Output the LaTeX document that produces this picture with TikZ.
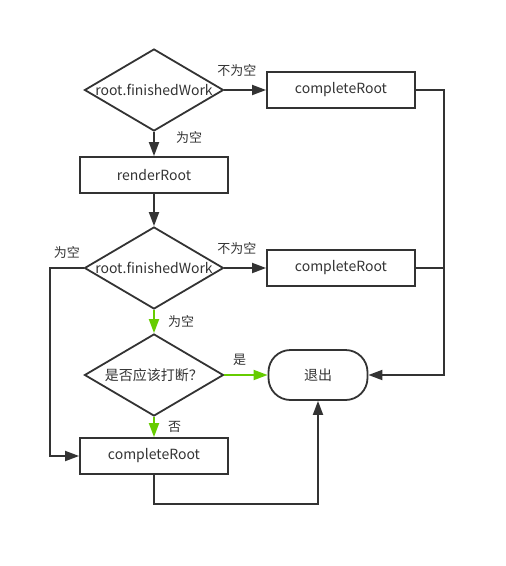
\documentclass[tikz,border=0pt]{standalone}
\usepackage{fontspec}
\setmainfont{Noto Sans CJK SC}
\usetikzlibrary{shapes.geometric, arrows.meta}
\definecolor{linegray}{RGB}{51,51,51}
\definecolor{yesgreen}{RGB}{102,204,0}
\tikzstyle{process} = [rectangle, 
minimum width=148pt, 
minimum height=36pt, 
text centered, 
draw=linegray, 
line width=1.8pt]
\tikzstyle{decision} = [diamond, 
aspect=1.7, 
minimum width=139pt, 
minimum height=82pt, 
inner sep=0pt, 
text centered, 
draw=linegray, 
line width=1.8pt]
\tikzstyle{startstop} = [rectangle, 
rounded corners=22pt, 
minimum width=99pt, 
minimum height=50pt, 
text centered, 
draw=linegray, 
line width=1.8pt]
\tikzstyle{arrow} = [line width=1.8pt,
draw=linegray,
->,
>={Triangle[length=14pt,width=10pt]}]
\tikzstyle{greenarrow} = [arrow, 
draw=yesgreen, 
fill=yesgreen]
\tikzstyle{line} = [line width=1.8pt, 
draw=linegray]
\tikzstyle{branch} = [text=linegray, 
font=\fontsize{13}{15}\selectfont]

\begin{document}
\begin{tikzpicture}[node distance=85pt, font=\fontsize{14}{16}\selectfont, text=linegray]
			
			\useasboundingbox (-154pt,90pt) rectangle (352pt,-476pt);
			
			\node (dec1) [decision] {root.finishedWork};
			
			\node (pro1) [process, right of=dec1, xshift=102pt] {completeRoot};
			
			\node (pro2) [process, below of=dec1] {renderRoot};
			
			\node (dec2) [decision, below of=pro2, yshift=-8pt] {root.finishedWork};
			
			\node (pro3) [process, right of=dec2, xshift=102pt] {completeRoot};
			
			\node (dec3) [decision, below of=dec2, yshift=-22pt] {是否应该打断？};
			
			\node (stop) [startstop, right of=dec3, xshift=79pt] {退出};
			
			\node (pro4) [process, below of=dec3, yshift=4pt] {completeRoot};
			
			\coordinate (rline) at (290pt,0pt);
			\coordinate (lline) at (-104pt,0pt);
			\coordinate (bline) at (0pt,-414pt);
			
			\draw [arrow] (dec1) -- node[branch, pos=0.3, above=9pt] {不为空} (pro1);
			\draw [arrow] (dec1) -- node[branch, pos=0.25, right=18pt] {为空} (pro2);
			\draw [arrow] (pro2) -- (dec2);
			\draw [arrow] (dec2) -- node[branch, pos=0.3, above=9pt] {不为空} (pro3);
			\draw [arrow] (dec2.west) -- node[branch, above=5pt] {为空} (dec2.west -| lline) |- (pro4.west);
			\draw [greenarrow] (dec2) -- node[branch, right=10pt] {为空} (dec3);
			\draw [greenarrow] (dec3) -- node[branch, pos=0.35, above=5pt] {是} (stop);
			\draw [greenarrow] (dec3) -- node[branch, right=10pt] {否} (pro4);
			\draw [arrow] (pro1.east) -- (pro1.east -| rline) |- (stop.east);
			\draw [line] (pro3.east) -- (pro3.east -| rline);
			\draw [arrow] (pro4.south) -- (pro4.south |- bline) -| (stop.south);
			
			
			\end{tikzpicture}
\end{document}
